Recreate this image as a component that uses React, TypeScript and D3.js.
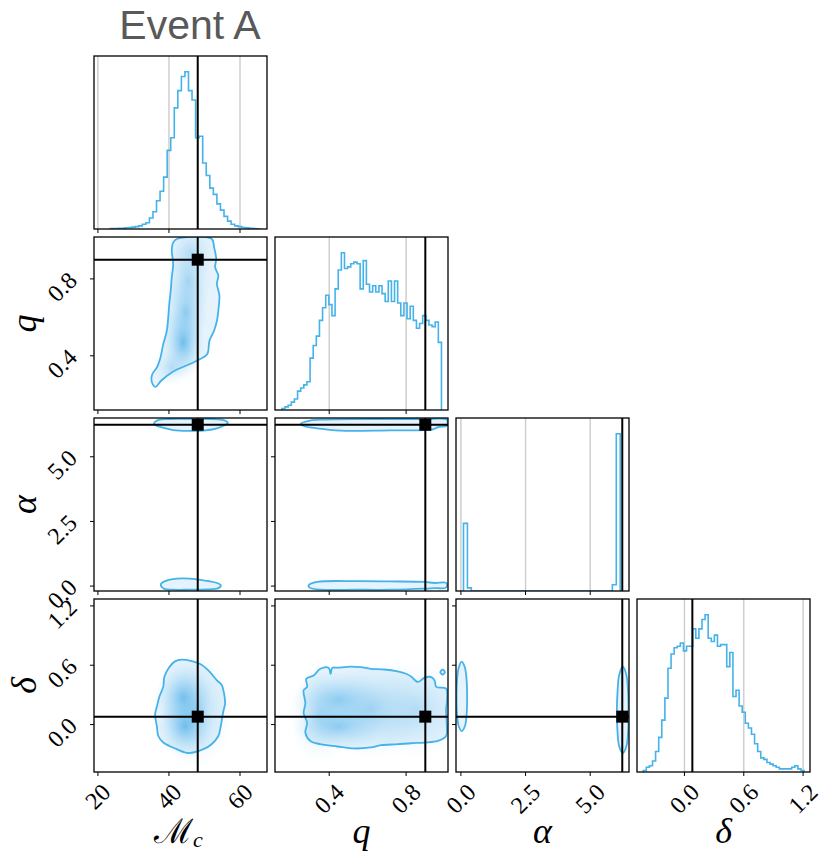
import React, { useRef, useEffect } from 'react';
import * as d3 from 'd3';

// parameter order: Mc, q, alpha, delta
const axisDomains: [number, number][] = [[18.9, 67.6], [0.118, 1.018], [-0.19, 6.5], [-0.48, 1.27]];
const truths = [48.1, 0.9, 6.24, 0.08];
const axisTicks = [[20, 40, 60], [0.4, 0.8], [0, 2.5, 5], [0, 0.6, 1.2]];
const tickFormats = ['d', '.1f', '.1f', '.1f'];

// 1D histograms (relative counts, max = 100)
const mcHistRange = [23.5, 65.5];
const mcHist = [0.3, 0.3, 0.5, 0.5, 0.8, 1, 1.2, 1.5, 2, 3, 4, 7, 11, 18, 24, 33, 50, 58, 77, 88, 97, 100, 88, 82, 58, 59, 42, 34, 26, 22, 16, 12, 8, 5, 3, 2, 1.5, 1, 0.7, 0.5, 0.3, 0.2];
const qHistRange = [0.154, 0.984];
const qHist = [1, 2, 3, 5, 7, 12, 14, 16, 18, 33, 41, 47, 57, 65, 73, 67, 60, 77, 89, 100, 90, 91, 93, 94, 93, 77, 95, 80, 75, 79, 75, 79, 74, 69, 82, 69, 82, 68, 60, 68, 58, 66, 57, 52, 55, 60, 57, 54, 53, 56, 43];
const alphaHistRange = [0.1, 6.16];
const alphaHist = [43, 2, 0, 0, 0, 0, 0, 0, 0, 0, 0, 0, 0, 0, 0, 0, 0, 0, 0, 0, 0, 0, 0, 0, 0, 0, 0, 0, 0, 0, 0, 0, 0, 0, 0, 0, 0, 0, 4, 100];
const deltaHistRange = [-0.417, 1.21];
const deltaHist = [1, 3, 4, 7, 13, 22, 33, 47, 66, 75, 79, 80, 82, 77, 80, 80, 91, 85, 91, 97, 100, 85, 83, 87, 80, 81, 81, 67, 76, 48, 52, 42, 38, 31, 28, 24, 18, 13, 9, 8, 6, 5, 4, 3, 2, 2, 2, 2, 3, 4, 2, 1];

// 2D contours (x param, y param)
const mcQContour: [number, number][] = [[42.4, 1.009], [52.0, 1.009], [52.7, 0.965], [53.3, 0.904], [53.0, 0.861], [53.9, 0.817], [53.5, 0.774], [54.2, 0.713], [53.9, 0.635], [53.5, 0.582], [52.7, 0.53], [51.4, 0.478], [50.8, 0.409], [48.8, 0.383], [45.9, 0.357], [41.2, 0.318], [37.8, 0.27], [36.2, 0.238], [35.2, 0.262], [35.3, 0.304], [36.6, 0.339], [37.5, 0.383], [38.4, 0.461], [39.4, 0.53], [39.8, 0.6], [40.1, 0.67], [40.5, 0.739], [40.8, 0.809], [41.2, 0.878], [40.8, 0.948], [41.2, 0.99]];
const mcAlphaTop: [number, number][] = [[35.8, 6.29], [36.6, 6.4], [39.4, 6.46], [44.1, 6.47], [48.8, 6.47], [53.5, 6.45], [55.8, 6.4], [56.6, 6.32], [55.8, 6.23], [53.5, 6.1], [49.7, 6.01], [45.9, 6.0], [41.2, 6.03], [38.0, 6.14], [36.1, 6.23]];
const mcAlphaBottom: [number, number][] = [[37.7, 0.07], [38.9, 0.19], [42.2, 0.29], [45.9, 0.29], [49.7, 0.22], [53.5, 0.12], [54.6, 0.03], [53.9, -0.08], [50.6, -0.13], [45.9, -0.14], [41.2, -0.14], [38.6, -0.1]];
const qAlphaTop: [number, number][] = [[0.252, 6.27], [0.3, 6.4], [0.372, 6.44], [0.55, 6.46], [0.721, 6.46], [0.896, 6.46], [1.012, 6.44], [1.016, 6.3], [1.012, 6.2], [0.966, 6.15], [0.94, 6.06], [0.896, 6.03], [0.721, 6.02], [0.459, 6.01], [0.337, 6.1], [0.267, 6.19]];
const qAlphaBottom: [number, number][] = [[0.293, 0.03], [0.337, 0.16], [0.547, 0.19], [0.721, 0.18], [0.896, 0.16], [0.948, 0.12], [1.008, 0.13], [1.013, 0.07], [1.008, -0.06], [0.948, -0.08], [0.896, -0.1], [0.721, -0.14], [0.547, -0.14], [0.337, -0.13], [0.298, -0.06]];
const mcDeltaContour: [number, number][] = [[43.6, 0.656], [48.8, 0.613], [51.1, 0.547], [53.5, 0.447], [54.9, 0.398], [55.5, 0.315], [55.8, 0.216], [55.3, 0.132], [54.9, 0.05], [54.4, -0.05], [53.9, -0.116], [52.0, -0.199], [49.7, -0.249], [45.5, -0.288], [42.2, -0.249], [38.4, -0.182], [37.0, -0.116], [36.6, -0.017], [36.1, 0.099], [36.6, 0.182], [37.3, 0.281], [38.4, 0.381], [38.7, 0.48], [39.8, 0.564], [41.7, 0.639]];
const qDeltaContour: [number, number][] = [[0.267, 0.348], [0.285, 0.381], [0.281, 0.464], [0.319, 0.497], [0.354, 0.564], [0.398, 0.573], [0.407, 0.51], [0.416, 0.573], [0.442, 0.575], [0.512, 0.586], [0.564, 0.58], [0.616, 0.564], [0.686, 0.557], [0.756, 0.537], [0.8, 0.514], [0.826, 0.487], [0.861, 0.431], [0.896, 0.474], [0.931, 0.48], [0.948, 0.447], [0.957, 0.381], [1.008, 0.364], [1.013, 0.249], [1.008, 0.149], [1.011, 0.017], [1.008, -0.116], [0.966, -0.166], [0.896, -0.182], [0.826, -0.189], [0.756, -0.199], [0.669, -0.209], [0.616, -0.232], [0.529, -0.242], [0.442, -0.222], [0.354, -0.199], [0.302, -0.166], [0.276, -0.083], [0.285, 0.017], [0.267, 0.116], [0.276, 0.215], [0.267, 0.315]];
const qDeltaIsland: [number, number][] = [[0.978, 0.53], [0.99, 0.555], [1.002, 0.53], [0.99, 0.505]];
const alphaDeltaLeft: [number, number][] = [[0.03, 0.636], [0.15, 0.58], [0.22, 0.45], [0.24, 0.285], [0.22, 0.1], [0.15, -0.02], [0.03, -0.066], [-0.08, -0.02], [-0.15, 0.1], [-0.17, 0.285], [-0.15, 0.45], [-0.08, 0.58]];
const alphaDeltaRight: [number, number][] = [[6.26, 0.586], [6.4, 0.5], [6.47, 0.3], [6.48, 0.15], [6.47, -0.05], [6.4, -0.22], [6.26, -0.288], [6.12, -0.22], [6.05, -0.05], [6.03, 0.15], [6.05, 0.3], [6.12, 0.5]];

// density hot spots: centre and spread in data units, weight 0..1
const mcQBlobs = [
  { x: 44.0, y: 0.47, sx: 3.0, sy: 0.1, w: 0.65 },
  { x: 44.8, y: 0.63, sx: 3.2, sy: 0.1, w: 0.45 },
  { x: 45.5, y: 0.79, sx: 3.3, sy: 0.1, w: 0.35 },
  { x: 46.2, y: 0.94, sx: 3.5, sy: 0.08, w: 0.25 },
  { x: 40.5, y: 0.34, sx: 2.5, sy: 0.05, w: 0.25 },
];
const mcDeltaBlobs = [
  { x: 44.0, y: 0.27, sx: 4, sy: 0.18, w: 0.6 },
  { x: 44.5, y: -0.02, sx: 4, sy: 0.16, w: 0.6 },
  { x: 48.0, y: 0.15, sx: 5, sy: 0.3, w: 0.3 },
];
const qDeltaBlobs = [
  { x: 0.45, y: 0.25, sx: 0.12, sy: 0.15, w: 0.45 },
  { x: 0.45, y: -0.02, sx: 0.12, sy: 0.12, w: 0.45 },
  { x: 0.62, y: 0.15, sx: 0.15, sy: 0.25, w: 0.35 },
  { x: 0.85, y: 0.15, sx: 0.15, sy: 0.25, w: 0.25 },
  { x: 0.35, y: 0.1, sx: 0.08, sy: 0.25, w: 0.25 },
];

const hists = [
  { range: mcHistRange, counts: mcHist },
  { range: qHistRange, counts: qHist },
  { range: alphaHistRange, counts: alphaHist },
  { range: deltaHistRange, counts: deltaHist },
];

const panels2d: Record<string, { contours: [number, number][][]; blobs: typeof mcQBlobs }> = {
  '10': { contours: [mcQContour], blobs: mcQBlobs },
  '20': { contours: [mcAlphaTop, mcAlphaBottom], blobs: [] },
  '21': { contours: [qAlphaTop, qAlphaBottom], blobs: [] },
  '30': { contours: [mcDeltaContour], blobs: mcDeltaBlobs },
  '31': { contours: [qDeltaContour, qDeltaIsland], blobs: qDeltaBlobs },
  '32': { contours: [alphaDeltaLeft, alphaDeltaRight], blobs: [] },
};

const LEFT = 94, TOP = 56, SIZE = 173, STEP = 181;
const BLUE = '#45b3ea';
const SERIF = '"Liberation Serif", "DejaVu Serif", serif';
const TICK_FS = 24;

function App() {
  const svgRef = useRef<SVGSVGElement>(null);

  useEffect(() => {
    const svg = d3.select(svgRef.current);
    svg.selectAll('*').remove();

    const defs = svg.append('defs');
    const grad = defs.append('radialGradient').attr('id', 'blob');
    grad.append('stop').attr('offset', '0%').attr('stop-color', '#2e9fe2').attr('stop-opacity', 1);
    grad.append('stop').attr('offset', '50%').attr('stop-color', '#5ab7ec').attr('stop-opacity', 0.45);
    grad.append('stop').attr('offset', '100%').attr('stop-color', '#9ed6f6').attr('stop-opacity', 0);

    const xs = axisDomains.map((d, j) =>
      d3.scaleLinear().domain(d).range([LEFT + j * STEP, LEFT + j * STEP + SIZE]));
    const ys = axisDomains.map((d, i) =>
      d3.scaleLinear().domain(d).range([TOP + i * STEP + SIZE, TOP + i * STEP]));

    for (let i = 0; i < 4; i++) {
      for (let j = 0; j <= i; j++) {
        const px = LEFT + j * STEP;
        const py = TOP + i * STEP;
        const g = svg.append('g');
        const clipId = `clip-${i}-${j}`;
        defs.append('clipPath').attr('id', clipId)
          .append('rect').attr('x', px).attr('y', py).attr('width', SIZE).attr('height', SIZE);
        const inner = g.append('g').attr('clip-path', `url(#${clipId})`);
        const x = xs[j];

        if (i === j) {
          // diagonal: grid + step histogram
          axisTicks[j].forEach((t) => {
            inner.append('line')
              .attr('x1', x(t)).attr('x2', x(t)).attr('y1', py).attr('y2', py + SIZE)
              .attr('stroke', '#cccccc').attr('stroke-width', 1.4);
          });
          const { range, counts } = hists[j];
          const n = counts.length;
          const edges = d3.range(n + 1).map((k) => range[0] + (k * (range[1] - range[0])) / n);
          const hy = d3.scaleLinear().domain([0, 1.1 * (d3.max(counts) as number)]).range([py + SIZE, py]);
          const pts: [number, number][] = [[edges[0], 0]];
          counts.forEach((c, k) => {
            pts.push([edges[k], c]);
            pts.push([edges[k + 1], c]);
          });
          pts.push([edges[n], 0]);
          inner.append('path')
            .attr('d', d3.line<[number, number]>().x((p) => x(p[0])).y((p) => hy(p[1]))(pts))
            .attr('fill', 'none').attr('stroke', BLUE).attr('stroke-width', 1.6);
          inner.append('line')
            .attr('x1', x(truths[j])).attr('x2', x(truths[j])).attr('y1', py).attr('y2', py + SIZE)
            .attr('stroke', '#000').attr('stroke-width', 2);
        } else {
          const y = ys[i];
          const panel = panels2d[`${i}${j}`];
          const line = d3.line<[number, number]>()
            .x((p) => x(p[0])).y((p) => y(p[1]))
            .curve(d3.curveCatmullRomClosed.alpha(0.5));
          panel.contours.forEach((c) => {
            inner.append('path').attr('d', line(c)).attr('fill', '#e6f3fc').attr('stroke', 'none');
          });
          panel.blobs.forEach((b) => {
            inner.append('ellipse')
              .attr('cx', x(b.x)).attr('cy', y(b.y))
              .attr('rx', Math.abs(x(b.x + 2 * b.sx) - x(b.x)))
              .attr('ry', Math.abs(y(b.y + 2 * b.sy) - y(b.y)))
              .attr('fill', 'url(#blob)').attr('opacity', b.w);
          });
          panel.contours.forEach((c) => {
            inner.append('path').attr('d', line(c))
              .attr('fill', 'none').attr('stroke', BLUE).attr('stroke-width', 1.8);
          });
          inner.append('line')
            .attr('x1', x(truths[j])).attr('x2', x(truths[j])).attr('y1', py).attr('y2', py + SIZE)
            .attr('stroke', '#000').attr('stroke-width', 2);
          inner.append('line')
            .attr('x1', px).attr('x2', px + SIZE).attr('y1', y(truths[i])).attr('y2', y(truths[i]))
            .attr('stroke', '#000').attr('stroke-width', 2);
          g.append('rect')
            .attr('x', x(truths[j]) - 6).attr('y', y(truths[i]) - 6)
            .attr('width', 12).attr('height', 12).attr('fill', '#000');

          // left ticks
          axisTicks[i].forEach((t) => {
            g.append('line')
              .attr('x1', px - 4).attr('x2', px).attr('y1', y(t)).attr('y2', y(t))
              .attr('stroke', '#000').attr('stroke-width', 1);
          });
          if (j === 0) {
            const fmt = d3.format(tickFormats[i]);
            axisTicks[i].forEach((t) => {
              const txt = g.append('text').text(fmt(t))
                .attr('font-family', SERIF).attr('font-size', TICK_FS)
                .attr('text-anchor', 'middle').attr('dominant-baseline', 'central');
              const w = (txt.node() as SVGTextElement).getComputedTextLength();
              const ext = 0.7071 * (w + TICK_FS * 0.72);
              txt.attr('transform', `translate(${px - 15 - ext / 2},${y(t) + 8}) rotate(-45)`);
            });
          }
        }

        // frame
        g.append('rect')
          .attr('x', px).attr('y', py).attr('width', SIZE).attr('height', SIZE)
          .attr('fill', 'none').attr('stroke', '#000').attr('stroke-width', 1.3);

        // bottom ticks
        axisTicks[j].forEach((t) => {
          g.append('line')
            .attr('x1', x(t)).attr('x2', x(t)).attr('y1', py + SIZE).attr('y2', py + SIZE + 4)
            .attr('stroke', '#000').attr('stroke-width', 1);
        });
        if (i === 3) {
          const fmt = d3.format(tickFormats[j]);
          axisTicks[j].forEach((t) => {
            const txt = g.append('text').text(fmt(t))
              .attr('font-family', SERIF).attr('font-size', TICK_FS)
              .attr('text-anchor', 'middle').attr('dominant-baseline', 'central');
            const w = (txt.node() as SVGTextElement).getComputedTextLength();
            const ext = 0.7071 * (w + TICK_FS * 0.72);
            txt.attr('transform', `translate(${x(t)},${py + SIZE + 10 + ext / 2}) rotate(-45)`);
          });
        }
      }
    }

    // axis labels
    const xl = svg.append('text')
      .attr('x', LEFT + SIZE / 2 - 2).attr('y', 843)
      .attr('text-anchor', 'middle').attr('font-family', SERIF).attr('font-size', 34);
    xl.append('tspan').text('ℳ');
    xl.append('tspan').text('c').attr('font-style', 'italic').attr('font-size', 22).attr('dy', 4);
    ['q', 'α', 'δ'].forEach((lab, k) => {
      svg.append('text')
        .attr('x', LEFT + (k + 1) * STEP + SIZE / 2).attr('y', 843)
        .attr('text-anchor', 'middle').attr('font-family', SERIF)
        .attr('font-style', 'italic').attr('font-size', 36).text(lab);
      const cy = TOP + (k + 1) * STEP + SIZE / 2;
      svg.append('text')
        .attr('transform', `translate(36,${cy}) rotate(-90)`)
        .attr('text-anchor', 'middle').attr('font-family', SERIF)
        .attr('font-style', 'italic').attr('font-size', 36).text(lab);
    });

    // title
    svg.append('text')
      .attr('x', 190).attr('y', 39)
      .attr('text-anchor', 'middle')
      .attr('font-family', '"Liberation Sans", Arial, sans-serif')
      .attr('font-size', 41).attr('fill', '#595959')
      .text('Event A');
  }, []);

  return (
    <svg
      ref={svgRef}
      width={821}
      height={855}
      style={{ position: 'absolute', left: 0, top: 0, background: '#fff' }}
    />
  );
}

export default App;
